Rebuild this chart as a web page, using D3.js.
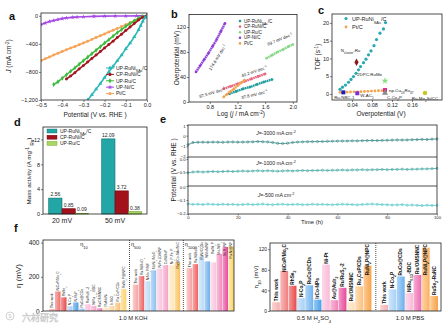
<!DOCTYPE html>
<html><head><meta charset="utf-8">
<script src="https://cdn.jsdelivr.net/npm/d3@7"></script>
<style>
html,body{margin:0;padding:0;background:#fff;}
svg{display:block;}
</style></head><body>
<svg id="fig" width="444" height="325"></svg>
<script>
// ---------- (a) HER polarization curves ----------
const lsvNames = ["UP-RuNi_{SAs}/C","CP-RuNi/C","UP-Ru/C","UP-Ni/C","Pt/C"];
const lsvColors = ["#2cb8b8","#a3161e","#3dbb3d","#a54ae6","#f6a45a"];
const lsvUPRuNi = [[0,0],[-0.01,-30],[-0.02,-80],[-0.03,-140],[-0.04,-200],[-0.06,-300],[-0.08,-390],[-0.10,-470],[-0.12,-560],[-0.14,-640],[-0.16,-720],[-0.18,-800],[-0.20,-880],[-0.22,-965],[-0.24,-1045],[-0.26,-1125],[-0.28,-1200]];
const lsvCPRuNi = [[0,0],[-0.02,-20],[-0.04,-60],[-0.06,-110],[-0.08,-160],[-0.10,-210],[-0.12,-262],[-0.14,-310],[-0.16,-362],[-0.18,-410],[-0.20,-458],[-0.22,-510],[-0.24,-560],[-0.26,-608],[-0.28,-660],[-0.30,-710],[-0.32,-758],[-0.34,-810],[-0.36,-858],[-0.38,-900]];
const lsvUPRu = [[0,0],[-0.02,-10],[-0.04,-35],[-0.06,-70],[-0.08,-110],[-0.10,-150],[-0.12,-196],[-0.14,-240],[-0.16,-290],[-0.18,-340],[-0.20,-388],[-0.22,-440],[-0.24,-490],[-0.26,-540],[-0.28,-590],[-0.30,-640],[-0.32,-690],[-0.34,-742],[-0.36,-790],[-0.38,-840],[-0.40,-890],[-0.42,-940],[-0.44,-980]];
const lsvUPNi = [[0,0],[-0.05,-1],[-0.10,-2],[-0.15,-3],[-0.20,-5],[-0.25,-8],[-0.30,-14],[-0.33,-18],[-0.35,-22],[-0.38,-30],[-0.40,-40],[-0.42,-52],[-0.44,-66],[-0.46,-82],[-0.48,-102],[-0.50,-125]];
const lsvPt = [[0,0],[-0.02,-22],[-0.04,-48],[-0.06,-74],[-0.08,-100],[-0.10,-128],[-0.12,-154],[-0.14,-180],[-0.16,-206],[-0.18,-232],[-0.20,-258],[-0.22,-284],[-0.24,-310],[-0.26,-336],[-0.28,-362],[-0.30,-388],[-0.32,-412],[-0.34,-436],[-0.36,-460],[-0.38,-484],[-0.40,-508],[-0.42,-534],[-0.44,-560],[-0.46,-586],[-0.48,-612],[-0.50,-640]];
const aXTicks = [-0.5,-0.4,-0.3,-0.2,-0.1,0.0];
const aYTicks = [0,-400,-800,-1200];

// ---------- (b) Tafel plots ----------
const tafelNames = ["UP-RuNi_{SAs}/C","CP-RuNi/C","UP-Ru/C","UP-Ni/C","Pt/C"];
const tafelColors = ["#1e9c9c","#e9667f","#86d886","#8f3fd8","#f2a14f"];
const tafelUPRuNi = [[1.08,13],[1.18,17],[1.28,21],[1.38,24],[1.48,28],[1.58,32],[1.70,36]];
const tafelCPRuNi = [[1.00,21],[1.10,25],[1.20,29],[1.30,33],[1.40,37],[1.50,41],[1.60,45]];
const tafelUPRu = [[1.62,70],[1.70,75],[1.78,80],[1.86,84],[1.94,89],[2.00,92]];
const tafelUPNi = [[0.60,48],[0.66,58],[0.72,68],[0.78,78],[0.84,89],[0.90,100],[0.96,113],[1.02,126]];
const tafelPt = [[1.00,8],[1.05,12.5],[1.10,17],[1.15,21],[1.20,26],[1.25,30.5],[1.30,35]];
const tafelSlopes = ["37.8 mV dec^{-1}","40.2 mV dec^{-1}","69.7 mV dec^{-1}","174.8 mV dec^{-1}","87.5 mV dec^{-1}"];
const bXTicks = [0.8,1.2,1.6,2.0];
const bYTicks = [0,40,80,120];

// ---------- (c) TOF ----------
const tofEta = [0.016,0.021,0.027,0.033,0.038,0.043,0.048,0.053,0.057,0.063,0.068,0.073,0.078,0.084,0.089,0.096,0.103,0.107];
const tofUPRuNi = [1.3,1.9,2.5,3.3,4.1,4.9,5.8,6.8,7.7,8.8,9.8,11.0,12.1,13.6,15.3,17.1,18.3,20.1];
const tofPtEta = [0.016,0.023,0.030,0.037,0.044,0.051,0.058,0.065,0.072,0.079,0.086,0.093,0.100,0.107];
const tofPt = [0.45,0.5,0.5,0.55,0.6,0.6,0.65,0.7,0.75,0.8,0.85,0.9,0.95,1.0];
const refNames = ["N_{cluster}-Ru","2DPC-RuMo","np-Cu_{53}Ru_{47}","C-Co_{2}P","Ru-Mo_{2}Si/CC","Ru-NBC-1","W-AC_{1}"];
const refEta = [0.049,0.106,0.106,0.106,0.186,0.0226,0.0506];
const refTof = [8.9,3.7,1.1,0.25,0.3,0.45,0.2];
const refColors = ["#8b1c1c","#86e07e","#d92c8c","#8a8a8a","#c6c62a","#1c1cb8","#7b2fd0"];
const cXTicks = [0.04,0.08,0.12,0.16];
const cYTicks = [0,5,10,15,20];

// ---------- (d) mass activity ----------
const maCats = ["20 mV","50 mV"];
const maNames = ["UP-RuNi_{SAs}/C","CP-RuNi/C","UP-Ru/C"];
const maUPRuNi = [2.56,12.09];
const maCPRuNi = [0.85,3.72];
const maUPRu = [0.09,0.38];
const maColors = ["#22a6a6","#a3121c","#a8d85e"];
const maStroke = ["#137070","#6d0a10","#6c9a2a"];
const dYTicks = [0,4,8,12];

// ---------- (e) chronopotentiometry ----------
const eTime = [0,2,4,6,8,10,12,14,16,18,20,22,24,26,28,30,32,34,36,38,40,42,44,46,48,50,52,54,56,58,60,62,64,66,68,70,72,74,76,78,80,82,84,86,88,90,92,94,96,98,100];
const e3000 = [-0.85,-0.64,-0.62,-0.61,-0.62,-0.60,-0.61,-0.62,-0.60,-0.59,-0.61,-0.60,-0.59,-0.58,-0.55,-0.57,-0.59,-0.64,-0.72,-0.74,-0.71,-0.64,-0.60,-0.58,-0.57,-0.56,-0.55,-0.55,-0.53,-0.52,-0.51,-0.50,-0.50,-0.48,-0.49,-0.47,-0.46,-0.45,-0.46,-0.44,-0.43,-0.42,-0.40,-0.41,-0.40,-0.38,-0.37,-0.35,-0.36,-0.33,-0.31];
const e1000 = [-0.53,-0.50,-0.49,-0.50,-0.49,-0.48,-0.49,-0.48,-0.47,-0.48,-0.47,-0.46,-0.47,-0.46,-0.45,-0.46,-0.45,-0.46,-0.47,-0.46,-0.45,-0.46,-0.45,-0.44,-0.45,-0.44,-0.44,-0.43,-0.44,-0.43,-0.43,-0.42,-0.43,-0.42,-0.42,-0.41,-0.42,-0.41,-0.41,-0.40,-0.41,-0.40,-0.40,-0.39,-0.40,-0.39,-0.39,-0.38,-0.38,-0.37,-0.36];
const e500 = [-0.128,-0.131,-0.130,-0.132,-0.129,-0.131,-0.133,-0.130,-0.132,-0.131,-0.134,-0.132,-0.130,-0.133,-0.131,-0.129,-0.132,-0.134,-0.131,-0.130,-0.133,-0.132,-0.131,-0.134,-0.133,-0.130,-0.132,-0.131,-0.133,-0.134,-0.132,-0.130,-0.131,-0.133,-0.135,-0.132,-0.130,-0.129,-0.131,-0.133,-0.134,-0.136,-0.135,-0.133,-0.137,-0.136,-0.138,-0.140,-0.137,-0.139,-0.138];
const eLabels = ["*{J}=-3000 mA cm^{-2}","*{J}=-1000 mA cm^{-2}","*{J}=-500 mA cm^{-2}"];
const eColors = ["#1f7a78","#2f9e9a","#43c3c4"];
const eXTicks = [0,20,40,60,80,100];

// ---------- (f) overpotential comparison ----------
const kohEta10Names = ["This work","NiCoP/Mo_{2}C","RhSe_{2}","N-Co_{2}P","N-RuP_{2}","RuCo@CDs","Ru/RuS_{2}-2","NiRu_{0.13}-BDC","Ru/OMSNNC","RuMoNi","Ir-NiO_{x}","Ru_{1}CoP/CDs","RuNi_{2}P@NPC"];
const kohEta10 = [12,114,80,28,50,14,40,30,16,20,30,48,128];
const kohEta10Colors = ["#f5a3a3","#ef6f6f","#e64c4c","#a7cff3","#4f9fe6","#8cc0ef","#f8bdd8","#f5a6cc","#ec78b4","#fde2bd","#fcd39c","#fbbf78","#fdd36c"];
const kohEta500Names = ["This work","Ru-NiMoO_{4}","NiMo_{3}P/NF","MoNi_{4}/MoO_{2}","NiFe-LDH/NF","CoNiMoP","Ni_{2}P-Fe_{2}P","Ru@Co-SAs/N-C"];
const kohEta500 = [154,204,174,238,248,268,268,284];
const kohEta500Colors = ["#f5a3a3","#ef6262","#bcdaf5","#8cc0ef","#f8c6dd","#f4a0c8","#fde7b8","#fbc15e"];
const kohEta1000Names = ["This work","Ru-NiMoO_{4}","RuNi/CQDs","NiMoN/NF","Ru/Ni_{2}P","Mo-NiS_{2}","Ni_{3}S_{2}/NF","Ru-Ni@NF"];
const kohEta1000 = [250,274,320,290,284,334,374,378];
const kohEta1000Colors = ["#f5a3a3","#ef6262","#bcdaf5","#6fb0ec","#f8c6dd","#f28cbf","#e84c9c","#fdd36c"];
const acidNames = ["This work","NiCoP/Mo_{2}C","RhSe_{2}","N-Co_{2}P","RuCo@CDs","IrCo-NPs","Ni-Pt","Au@AuIr_{2}","Ru/RuS_{2}-2","Ru/OMSNNC","Ru_{1}CoP/CDs","RuNi_{2}P@NPC"];
const acidEta10 = [17,78,49,25,50,22,90,21,45,17,48,88];
const acidColors = ["#f6b0b0","#f07f7f","#e84a4a","#a8d1f5","#70b3ef","#4aa0ea","#f9bad8","#f083bb","#e8489a","#fde0b8","#fbc27f","#f9a347"];
const pbsNames = ["This work","N-Co_{2}P","RuCo@CDs","NiRu_{0.13}-BDC","Ru/OMSNNC","RuNi_{2}P@NPC","RuSe_{2}-RuNC"];
const pbsEta10 = [12,42,67,35,70,123,29];
const pbsColors = ["#f6b0b0","#a8d1f5","#6bb0ee","#f9bad8","#ec6bb0","#fbb060","#f9a347"];
const fLYTicks = [0,200,400];
const fRYTicks = [0,40,80,120];

// ---------- drawing helpers ----------
const FONT = "'Liberation Sans', Arial, Helvetica, sans-serif";
const svg = d3.select("#fig").attr("font-family", FONT);
svg.append("rect").attr("width", 444).attr("height", 325).attr("fill", "#fff");
const defs = svg.append("defs");

function rich(t, str, fs) {
  t.attr("font-size", fs);
  const parts = str.split(/(_\{[^}]*\}|\^\{[^}]*\}|\*\{[^}]*\})/).filter(s => s !== "");
  for (const p of parts) {
    const s = t.append("tspan");
    if (p.startsWith("_{")) s.attr("baseline-shift", "sub").attr("font-size", fs * 0.72).text(p.slice(2, -1));
    else if (p.startsWith("^{")) s.attr("baseline-shift", "super").attr("font-size", fs * 0.72).text(p.slice(2, -1));
    else if (p.startsWith("*{")) s.attr("font-style", "italic").text(p.slice(2, -1));
    else s.text(p);
  }
  return t;
}
function axis(g, gen, fs) {
  g.call(gen).attr("font-size", fs).attr("font-family", FONT);
  g.select(".domain").remove();
  g.selectAll(".tick line").attr("stroke", "#333").attr("stroke-width", 0.6);
  g.selectAll(".tick text").attr("fill", "#222");
  return g;
}
function box(x0, y0, x1, y1) {
  svg.append("rect").attr("x", x0).attr("y", y0).attr("width", x1 - x0).attr("height", y1 - y0)
    .attr("fill", "none").attr("stroke", "#222").attr("stroke-width", 0.8);
}
function panelLabel(t, x, y) {
  svg.append("text").attr("x", x).attr("y", y).attr("font-size", 11).attr("font-weight", "bold").attr("fill", "#111").text(t);
}
function ylabel(str, x, y, fs) {
  rich(svg.append("text").attr("transform", `translate(${x},${y}) rotate(-90)`).attr("text-anchor", "middle").attr("fill", "#222"), str, fs);
}
function xlabel(str, x, y, fs) {
  rich(svg.append("text").attr("x", x).attr("y", y).attr("text-anchor", "middle").attr("fill", "#222"), str, fs);
}
function grad(color) {
  const id = "g" + color.slice(1);
  if (defs.select("#" + id).empty()) {
    const lg = defs.append("linearGradient").attr("id", id).attr("x1", "0").attr("x2", "1").attr("y1", "0").attr("y2", "0");
    lg.append("stop").attr("offset", "0").attr("stop-color", d3.interpolateRgb(color, "#fff")(0.45));
    lg.append("stop").attr("offset", "1").attr("stop-color", color);
  }
  return `url(#${id})`;
}

// ================= panel a =================
{
  const x = d3.scaleLinear().domain([-0.5, 0]).range([41, 147]);
  const y = d3.scaleLinear().domain([-1200, 40]).range([100, 13]);
  axis(svg.append("g").attr("transform", "translate(0,100)"), d3.axisBottom(x).tickValues(aXTicks).tickFormat(d3.format(".1f")).tickSize(2).tickPadding(1), 5.5);
  axis(svg.append("g").attr("transform", "translate(41,0)"), d3.axisLeft(y).tickValues(aYTicks).tickSize(2).tickPadding(1), 5.5);
  const series = [lsvUPRuNi, lsvCPRuNi, lsvUPRu, lsvUPNi, lsvPt];
  const syms = [d3.symbolTriangle, d3.symbolCircle, d3.symbolDiamond, d3.symbolStar, d3.symbolCircle];
  const line = d3.line().x(d => x(d[0])).y(d => y(d[1]));
  const clip = defs.append("clipPath").attr("id", "clipA");
  clip.append("rect").attr("x", 41).attr("y", 13).attr("width", 106).attr("height", 87);
  const gp = svg.append("g").attr("clip-path", "url(#clipA)");
  [4, 3, 2, 1, 0].forEach(i => {
    gp.append("path").attr("d", line(series[i])).attr("fill", "none").attr("stroke", lsvColors[i]).attr("stroke-width", 1.6);
    gp.selectAll(null).data(series[i]).join("path")
      .attr("transform", d => `translate(${x(d[0])},${y(d[1])})`)
      .attr("d", d3.symbol().type(syms[i]).size(7)).attr("fill", lsvColors[i]);
  });
  box(41, 13, 147, 100);
  lsvNames.forEach((n, i) => {
    const ly = 68 + i * 6.4;
    svg.append("line").attr("x1", 106).attr("x2", 114).attr("y1", ly).attr("y2", ly).attr("stroke", lsvColors[i]).attr("stroke-width", 1);
    svg.append("path").attr("transform", `translate(110,${ly})`).attr("d", d3.symbol().type(syms[i]).size(8)).attr("fill", lsvColors[i]);
    rich(svg.append("text").attr("x", 116).attr("y", ly + 1.8).attr("fill", "#222"), n, 5);
  });
  panelLabel("a", 9, 20);
  ylabel("*{J} (mA cm^{-2})", 11, 56, 6.5);
  xlabel("Potential (V vs. RHE )", 95, 117, 6.5);
}

// ================= panel b =================
{
  const x = d3.scaleLinear().domain([0.5, 2.06]).range([189, 297]);
  const y = d3.scaleLinear().domain([0, 140]).range([102, 14.5]);
  axis(svg.append("g").attr("transform", "translate(0,102)"), d3.axisBottom(x).tickValues(bXTicks).tickFormat(d3.format(".1f")).tickSize(2).tickPadding(1), 5.5);
  axis(svg.append("g").attr("transform", "translate(189,0)"), d3.axisLeft(y).tickValues(bYTicks).tickSize(2).tickPadding(1), 5.5);
  const series = [tafelUPRuNi, tafelCPRuNi, tafelUPRu, tafelUPNi, tafelPt];
  const line = d3.line().x(d => x(d[0])).y(d => y(d[1]));
  series.forEach((s, i) => {
    svg.append("path").attr("d", line(s)).attr("fill", "none").attr("stroke", tafelColors[i]).attr("stroke-width", 2.4).attr("stroke-dasharray", "1.6,0.5");
    svg.selectAll(null).data(s).join("circle").attr("cx", d => x(d[0])).attr("cy", d => y(d[1])).attr("r", 1.3).attr("fill", tafelColors[i]);
  });
  // slope annotations: anchor (data coords) and rotation
  const ann = [[1.45, 9.5, -14], [1.45, 46.5, -19], [1.82, 98, -22], [0.93, 70, -58], [0.84, 12.5, -17]];
  ann.forEach((a, i) => {
    rich(svg.append("text").attr("transform", `translate(${x(a[0])},${y(a[1])}) rotate(${a[2]})`).attr("text-anchor", "middle").attr("fill", "#222"), tafelSlopes[i], 4.3);
  });
  box(189, 14.5, 297, 102);
  tafelNames.forEach((n, i) => {
    const ly = 21 + i * 5.6;
    svg.append("circle").attr("cx", 240).attr("cy", ly).attr("r", 1.3).attr("fill", tafelColors[i]);
    rich(svg.append("text").attr("x", 244).attr("y", ly + 1.6).attr("fill", "#222"), n, 4.5);
  });
  panelLabel("b", 171, 18);
  ylabel("Overpotential (mV)", 179, 58, 6.5);
  xlabel("Log (*{j} / mA cm^{-2})", 241, 116, 6.5);
}

// ================= panel c =================
{
  const x = d3.scaleLinear().domain([0, 0.22]).range([332, 442]);
  const y = d3.scaleLinear().domain([-1.7, 22.5]).range([100, 14]);
  axis(svg.append("g").attr("transform", "translate(0,100)"), d3.axisBottom(x).tickValues(cXTicks).tickFormat(d3.format(".2f")).tickSize(2).tickPadding(1), 5.5);
  axis(svg.append("g").attr("transform", "translate(332,0)"), d3.axisLeft(y).tickValues(cYTicks).tickSize(2).tickPadding(1), 5.5);
  svg.selectAll(null).data(tofPtEta.map((e, i) => [e, tofPt[i]])).join("circle")
    .attr("cx", d => x(d[0])).attr("cy", d => y(d[1])).attr("r", 1.4).attr("fill", "#f4a14a");
  svg.selectAll(null).data(tofEta.map((e, i) => [e, tofUPRuNi[i]])).join("circle")
    .attr("cx", d => x(d[0])).attr("cy", d => y(d[1])).attr("r", 1.6).attr("fill", "#2aa8b0");
  const syms = [d3.symbolDiamond, d3.symbolStar, d3.symbolSquare, d3.symbolTriangle, d3.symbolCircle, d3.symbolSquare, d3.symbolSquare];
  const offs = [[-6, -10, "middle"], [-3, -5, "end"], [4, 1.5, "start"], [2, 6, "start"], [0, 7, "middle"], [1, 6.5, "middle"], [3, 4, "start"]];
  refNames.forEach((n, i) => {
    const px = x(refEta[i]), py = y(refTof[i]);
    svg.append("path").attr("transform", `translate(${px},${py})`).attr("d", d3.symbol().type(syms[i]).size(16)).attr("fill", refColors[i]);
    rich(svg.append("text").attr("x", px + offs[i][0]).attr("y", py + offs[i][1]).attr("text-anchor", offs[i][2]).attr("fill", "#222"), n, 4.4);
  });
  box(332, 14, 442, 100);
  svg.append("circle").attr("cx", 346).attr("cy", 18.5).attr("r", 1.6).attr("fill", "#2aa8b0");
  rich(svg.append("text").attr("x", 352).attr("y", 20.5).attr("fill", "#222"), "UP-RuNi_{SAs}/C", 5.5);
  svg.append("circle").attr("cx", 346).attr("cy", 27).attr("r", 1.4).attr("fill", "#f4a14a");
  rich(svg.append("text").attr("x", 352).attr("y", 29).attr("fill", "#222"), "Pt/C", 5.5);
  panelLabel("c", 318, 14);
  ylabel("TOF (s^{-1})", 320, 57, 6.5);
  xlabel("Overpotential (V)", 381, 116, 6.5);
}

// ================= panel d =================
{
  const x = d3.scalePoint().domain(maCats).range([62, 115]);
  const y = d3.scaleLinear().domain([0, 14]).range([214, 127]);
  const bw = 13.3;
  axis(svg.append("g").attr("transform", "translate(43,0)"), d3.axisLeft(y).tickValues(dYTicks).tickSize(2).tickPadding(1), 5.5);
  const series = [maUPRuNi, maCPRuNi, maUPRu];
  series.forEach((s, i) => {
    s.forEach((v, j) => {
      const bx = x(maCats[j]) + (i - 1) * bw;
      svg.append("rect").attr("x", bx).attr("y", y(v)).attr("width", bw).attr("height", y(0) - y(v))
        .attr("fill", maColors[i]).attr("stroke", maStroke[i]).attr("stroke-width", 0.6);
      svg.append("text").attr("x", bx + bw / 2).attr("y", y(v) - 2).attr("text-anchor", "middle").attr("font-size", 5).attr("fill", "#222").text(v.toFixed(2));
    });
  });
  box(43, 127, 147, 214);
  maCats.forEach(c => svg.append("text").attr("x", x(c)).attr("y", 222.5).attr("text-anchor", "middle").attr("font-size", 7).attr("fill", "#222").text(c));
  maNames.forEach((n, i) => {
    const ly = 131 + i * 6.2;
    svg.append("rect").attr("x", 47).attr("y", ly - 2).attr("width", 10).attr("height", 4).attr("fill", maColors[i]).attr("stroke", maStroke[i]).attr("stroke-width", 0.4);
    rich(svg.append("text").attr("x", 60).attr("y", ly + 1.6).attr("fill", "#222"), n, 5);
  });
  panelLabel("d", 14, 126);
  ylabel("Mass activity (A mg^{-1} _{Ru})", 31, 171, 6.2);
}

// ================= panel e =================
{
  const x = d3.scaleLinear().domain([0, 100]).range([188, 437]);
  const bands = [
    { dom: [-2, 1], top: 125, bot: 157, ticks: [1, 0, -1, -2], fmt: d3.format("d"), data: e3000 },
    { dom: [-1.04, 0.08], top: 157, bot: 186, ticks: [0, -0.5], fmt: d3.format(".1f"), data: e1000 },
    { dom: [-0.2, 0.0], top: 186, bot: 214, ticks: [0, -0.1, -0.2], fmt: d3.format(".1f"), data: e500 }
  ];
  const lblY = [134.5, 165, 197];
  bands.forEach((b, k) => {
    const y = d3.scaleLinear().domain(b.dom).range([b.bot, b.top]);
    const ag = axis(svg.append("g").attr("transform", "translate(188,0)"), d3.axisLeft(y).tickValues(b.ticks).tickFormat(b.fmt).tickSize(1.5).tickPadding(1), 4.2);
    // keep stacked tick labels at the shared borders from colliding
    ag.selectAll(".tick text").attr("dy", d => (d === b.dom[0] || (k > 0 && d === b.ticks[b.ticks.length - 1] && y(d) > b.bot - 1)) ? "0.1em" : (y(d) < b.top + 1 ? "0.6em" : "0.32em"));
    const pts = eTime.map((t, i) => [t, b.data[i]]);
    svg.append("path").attr("d", d3.line().x(d => x(d[0])).y(d => y(d[1]))(pts)).attr("fill", "none").attr("stroke", eColors[k]).attr("stroke-width", 0.7);
    svg.selectAll(null).data(pts).join("circle").attr("cx", d => x(d[0])).attr("cy", d => y(d[1])).attr("r", 1.1)
      .attr("fill", "none").attr("stroke", eColors[k]).attr("stroke-width", 0.55);
    rich(svg.append("text").attr("x", 276).attr("y", lblY[k]).attr("text-anchor", "middle").attr("fill", "#222"), eLabels[k], 5.2);
    if (k > 0) svg.append("line").attr("x1", 188).attr("x2", 437).attr("y1", b.top).attr("y2", b.top).attr("stroke", "#222").attr("stroke-width", 0.8);
  });
  axis(svg.append("g").attr("transform", "translate(0,214)"), d3.axisBottom(x).tickValues(eXTicks).tickSize(1.5).tickPadding(1), 4.2);
  box(188, 125, 437, 214);
  panelLabel("e", 160, 123);
  ylabel("Potential (V vs. RHE )", 176, 170, 6.5);
  xlabel("Time (h)", 312, 224, 6);
}

// ================= panel f (left: 1.0 M KOH) =================
{
  const secs = [
    { key: "a", names: kohEta10Names, vals: kohEta10, cols: kohEta10Colors, title: "η_{10}" },
    { key: "b", names: kohEta500Names, vals: kohEta500, cols: kohEta500Colors, title: "η_{500}" },
    { key: "c", names: kohEta1000Names, vals: kohEta1000, cols: kohEta1000Colors, title: "η_{1000}" }
  ];
  const slots = ["p0"];
  secs.forEach((s, k) => { if (k > 0) slots.push("gap" + k); s.names.forEach((n, i) => slots.push(s.key + i)); });
  const x = d3.scaleBand().domain(slots).range([43, 234]).paddingInner(0.07);
  const y = d3.scaleLinear().domain([0, 415]).range([311, 240]);
  axis(svg.append("g").attr("transform", "translate(43,0)"), d3.axisLeft(y).tickValues(fLYTicks).tickSize(2).tickPadding(1.5), 6.5);
  secs.forEach((s, k) => {
    s.vals.forEach((v, i) => {
      const bx = x(s.key + i), bw = x.bandwidth(), top = y(v);
      svg.append("rect").attr("x", bx).attr("y", top).attr("width", bw).attr("height", y(0) - top).attr("fill", grad(s.cols[i]));
      const t = svg.append("text").attr("fill", "#222");
      const inside = top - 22 < 241;
      t.attr("transform", `translate(${bx + bw / 2 + 1.2},${inside ? 242 : top - 1}) rotate(-90)`).attr("text-anchor", inside ? "end" : "start");
      rich(t, s.names[i], 3.4);
    });
    if (k > 0) {
      const gx = x("gap" + k) + x.bandwidth() / 2;
      svg.append("line").attr("x1", gx).attr("x2", gx).attr("y1", 240).attr("y2", 311).attr("stroke", "#222").attr("stroke-width", 0.8).attr("stroke-dasharray", "1,1");
      rich(svg.append("text").attr("x", gx + 1.5).attr("y", 246).attr("fill", "#222"), s.title, 5.5);
    } else {
      rich(svg.append("text").attr("x", 84).attr("y", 246).attr("text-anchor", "middle").attr("fill", "#222"), s.title, 5.5);
    }
  });
  box(43, 240, 234, 311);
  panelLabel("f", 14, 232);
  ylabel("η (mV)", 21, 276, 8);
  xlabel("1.0 M KOH", 133, 320, 5.8);
}

// ================= panel f (right: acid and neutral) =================
{
  const secs = [
    { key: "h", names: acidNames, vals: acidEta10, cols: acidColors },
    { key: "n", names: pbsNames, vals: pbsEta10, cols: pbsColors }
  ];
  const slots = [];
  secs.forEach((s, k) => { if (k > 0) slots.push("gap"); s.names.forEach((n, i) => slots.push(s.key + i)); });
  const x = d3.scaleBand().domain(slots).range([272, 438]).paddingInner(0.06);
  const y = d3.scaleLinear().domain([0, 132]).range([311, 243]);
  axis(svg.append("g").attr("transform", "translate(270,0)"), d3.axisLeft(y).tickValues(fRYTicks).tickSize(2).tickPadding(1), 5);
  secs.forEach(s => {
    s.vals.forEach((v, i) => {
      const bx = x(s.key + i), bw = x.bandwidth(), top = y(v);
      svg.append("rect").attr("x", bx).attr("y", top).attr("width", bw).attr("height", y(0) - top).attr("fill", grad(s.cols[i]));
      const t = svg.append("text").attr("fill", "#111").attr("font-weight", "bold");
      const len = s.names[i].replace(/[_{}]/g, "").length;
      const above = top - len * 2.7 - 1 > 244;
      t.attr("transform", `translate(${bx + bw / 2 + 1.7},${above ? top - 1 : 244}) rotate(-90)`).attr("text-anchor", above ? "start" : "end");
      rich(t, s.names[i], 4.8);
    });
  });
  const gx = x("gap") + x.bandwidth() / 2;
  svg.append("line").attr("x1", gx).attr("x2", gx).attr("y1", 243).attr("y2", 311).attr("stroke", "#222").attr("stroke-width", 0.8).attr("stroke-dasharray", "1,1");
  box(270, 243, 441, 311);
  ylabel("η_{10} (mV)", 258, 277, 6);
  xlabel("0.5 M H_{2}SO_{4}", 314, 320, 6);
  xlabel("1.0 M PBS", 410, 320, 6);
}

// source mark
svg.append("circle").attr("cx", 10).attr("cy", 316).attr("r", 4).attr("fill", "none").attr("stroke", "#c8c8c8").attr("stroke-width", 0.8);
svg.append("text").attr("x", 10).attr("y", 318).attr("text-anchor", "middle").attr("font-size", 5).attr("fill", "#c0c0c0").text("S");
svg.append("text").attr("x", 22).attr("y", 321).attr("font-size", 9).attr("font-family", "'Noto Sans CJK SC', sans-serif")
  .attr("fill", "#fff").attr("stroke", "#c4c4c4").attr("stroke-width", 0.5).text("六材研究");
</script>
</body></html>
